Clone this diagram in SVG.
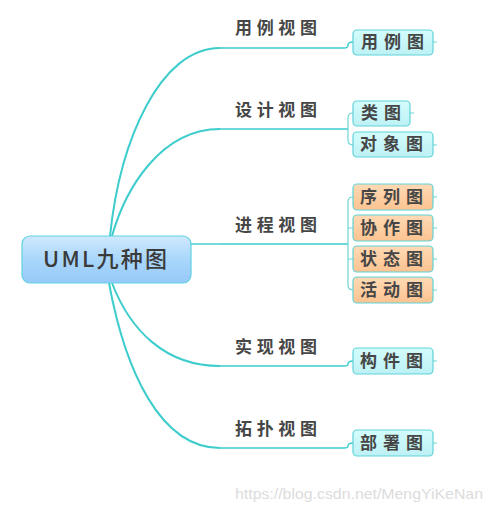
<svg xmlns="http://www.w3.org/2000/svg" width="493" height="512" viewBox="0 0 493 512">
<defs>
<linearGradient id="gc" x1="0" y1="0" x2="0" y2="1">
<stop offset="0" stop-color="#cfe9fd"/>
<stop offset="0.5" stop-color="#a9d6fb"/>
<stop offset="1" stop-color="#97c9f9"/>
</linearGradient>
<linearGradient id="gb" x1="0" y1="0" x2="0" y2="1">
<stop offset="0" stop-color="#d4fcfc"/>
<stop offset="1" stop-color="#bdf1f5"/>
</linearGradient>
<linearGradient id="go" x1="0" y1="0" x2="0" y2="1">
<stop offset="0" stop-color="#ffdab5"/>
<stop offset="1" stop-color="#fcc391"/>
</linearGradient>
<style>
.t{font-family:"Noto Sans CJK SC","Noto Sans",sans-serif;font-weight:700;fill:#464646;font-size:17px}
.c{font-family:"Noto Sans CJK SC","Noto Sans",sans-serif;font-weight:500;fill:#3a3a3a;font-size:22px}
.br{fill:none;stroke:#3ecccc;stroke-width:2}
.ln{fill:none;stroke:#3ecccc;stroke-width:1.4}
.bk{fill:none;stroke:#6dd6d6;stroke-width:1.2}
.st{stroke:#6dd6d6;stroke-width:1}
.nb{fill:url(#gb);stroke:#5fd3d8;stroke-width:1.2}
.no{fill:url(#go);stroke:#5fd3d8;stroke-width:1.2}
.wm{font-family:"Liberation Sans",Arial,sans-serif;font-size:15px;fill:#dcdcdc}
</style>
</defs>
<rect width="493" height="512" fill="#ffffff"/>
<g id="connectors">
<path class="br" d="M110,236 C120,140 160,48 220,48"/>
<path class="br" d="M112,236 C125,190 160,129 220,129"/>
<path class="ln" d="M191,244 L220,244"/>
<path class="br" d="M112,283 C130,330 165,366 220,366"/>
<path class="br" d="M109,283 C125,370 160,448 220,448"/>
<path class="ln" d="M220,48 L344,48 Q348,48 348,45 Q348,42 353,42"/>
<path class="ln" d="M220,129 L348,129"/>
<path class="bk" d="M353,113 Q348,113 348,118 L348,140 Q348,145 353,145"/>
<path class="ln" d="M220,244 L348,244"/>
<path class="bk" d="M353,197 Q348,197 348,202 L348,285 Q348,290 353,290"/>
<path class="bk" d="M348,228 L353,228 M348,259 L353,259"/>
<path class="ln" d="M220,366 L344,366 Q348,366 348,364 Q348,361 353,361"/>
<path class="ln" d="M220,448 L344,448 Q348,448 348,446 Q348,443 353,443"/>
<path class="st" d="M433,42 L437,42 M410,113 L414,113 M433,145 L437,145 M433,197 L437,197 M433,228 L437,228 M433,259 L437,259 M433,290 L437,290 M433,361 L437,361 M433,443 L437,443"/>
</g>
<g id="root">
<rect x="22" y="236" width="169" height="47" rx="8" fill="url(#gc)" stroke="#5fd3e0" stroke-width="1.2"/>
<text class="c" x="43" y="267" textLength="124" lengthAdjust="spacing">UML九种图</text>
</g>
<g id="label-usecase"><text class="t" x="235" y="34" textLength="82" lengthAdjust="spacing">用例视图</text></g>
<g id="label-design"><text class="t" x="235" y="116" textLength="82" lengthAdjust="spacing">设计视图</text></g>
<g id="label-process"><text class="t" x="235" y="231" textLength="82" lengthAdjust="spacing">进程视图</text></g>
<g id="label-impl"><text class="t" x="235" y="353" textLength="82" lengthAdjust="spacing">实现视图</text></g>
<g id="label-topo"><text class="t" x="235" y="435" textLength="82" lengthAdjust="spacing">拓扑视图</text></g>
<g id="n-usecase"><rect class="nb" x="353" y="30" width="80" height="25" rx="4"/><text class="t" x="361" y="48" textLength="63" lengthAdjust="spacing">用例图</text></g>
<g id="n-class"><rect class="nb" x="353" y="101" width="57" height="25" rx="4"/><text class="t" x="361" y="119" textLength="40" lengthAdjust="spacing">类图</text></g>
<g id="n-object"><rect class="nb" x="353" y="132" width="80" height="25" rx="4"/><text class="t" x="360" y="150" textLength="63" lengthAdjust="spacing">对象图</text></g>
<g id="n-seq"><rect class="no" x="353" y="184" width="80" height="26" rx="4"/><text class="t" x="360" y="203" textLength="63" lengthAdjust="spacing">序列图</text></g>
<g id="n-collab"><rect class="no" x="353" y="215" width="80" height="26" rx="4"/><text class="t" x="360" y="234" textLength="63" lengthAdjust="spacing">协作图</text></g>
<g id="n-state"><rect class="no" x="353" y="246" width="80" height="26" rx="4"/><text class="t" x="360" y="265" textLength="63" lengthAdjust="spacing">状态图</text></g>
<g id="n-activity"><rect class="no" x="353" y="277" width="80" height="26" rx="4"/><text class="t" x="360" y="296" textLength="63" lengthAdjust="spacing">活动图</text></g>
<g id="n-component"><rect class="nb" x="353" y="348" width="80" height="26" rx="4"/><text class="t" x="360" y="367" textLength="63" lengthAdjust="spacing">构件图</text></g>
<g id="n-deploy"><rect class="nb" x="353" y="430" width="80" height="26" rx="4"/><text class="t" x="360" y="449" textLength="63" lengthAdjust="spacing">部署图</text></g>
<text class="wm" x="235" y="499" textLength="248" lengthAdjust="spacingAndGlyphs">https://blog.csdn.net/MengYiKeNan</text>
</svg>
